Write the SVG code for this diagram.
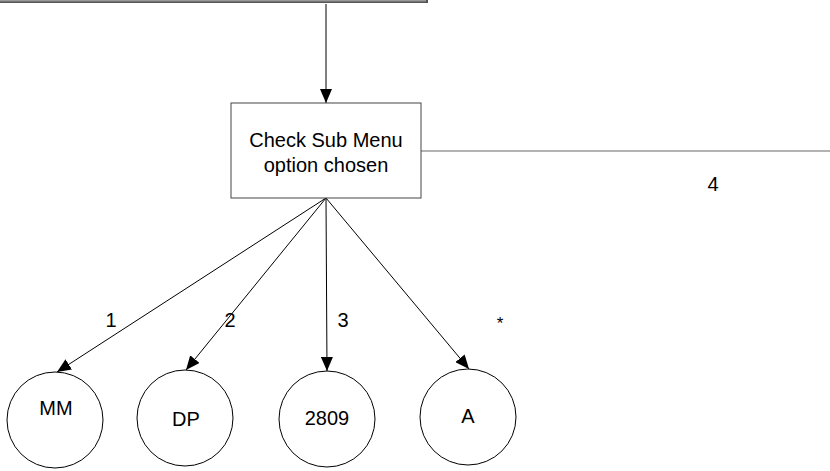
<svg xmlns="http://www.w3.org/2000/svg" width="830" height="471" viewBox="0 0 830 471">
  <style>
    .lbl { font-family: "Liberation Sans", Arial, sans-serif; font-size: 20px; fill: #000; text-anchor: middle; }
    .node { fill: #fff; stroke: #000; stroke-width: 1; }
    .conn { stroke: #000; stroke-width: 1; fill: none; }
  </style>
  <defs>
    <marker id="arrow" markerWidth="14" markerHeight="12" refX="14" refY="6" orient="auto" markerUnits="userSpaceOnUse">
      <path d="M0,0 L14,6 L0,12 Z" fill="#000"/>
    </marker>
  </defs>
  <rect width="830" height="471" fill="#fff"/>

  <!-- upper bar -->
  <g id="top-bar">
    <rect x="0" y="0" width="428" height="3" fill="#555"/>
    <rect x="0" y="0" width="426" height="1.5" fill="#999"/>
  </g>

  <g id="connectors">
    <line class="conn" x1="326" y1="4" x2="326" y2="103" marker-end="url(#arrow)"/>
    <line x1="421" y1="151" x2="830" y2="151" stroke="#666" stroke-width="1"/>
    <line class="conn" x1="326" y1="198" x2="57" y2="372" marker-end="url(#arrow)"/>
    <line class="conn" x1="326" y1="198" x2="186" y2="370" marker-end="url(#arrow)"/>
    <line class="conn" x1="326" y1="198" x2="327" y2="371" marker-end="url(#arrow)"/>
    <line class="conn" x1="326" y1="198" x2="469" y2="369" marker-end="url(#arrow)"/>
    <text class="lbl" x="111" y="327">1</text>
    <text class="lbl" x="230" y="327">2</text>
    <text class="lbl" x="343" y="327">3</text>
    <text class="lbl" x="500" y="329" style="font-size:17px">*</text>
    <text class="lbl" x="713" y="191">4</text>
  </g>

  <g id="check-sub-menu">
    <rect x="231" y="103" width="190" height="95" fill="#fff" stroke="#444" stroke-width="1"/>
    <text class="lbl" x="326" y="147">Check Sub Menu</text>
    <text class="lbl" x="326" y="172">option chosen</text>
  </g>

  <g id="node-mm">
    <ellipse class="node" cx="55" cy="420" rx="48" ry="48"/>
    <text class="lbl" x="56" y="415">MM</text>
  </g>
  <g id="node-dp">
    <ellipse class="node" cx="185" cy="418" rx="48" ry="48"/>
    <text class="lbl" x="186" y="426">DP</text>
  </g>
  <g id="node-2809">
    <ellipse class="node" cx="327" cy="419" rx="48" ry="48"/>
    <text class="lbl" x="327" y="425">2809</text>
  </g>
  <g id="node-a">
    <ellipse class="node" cx="468" cy="417" rx="48" ry="48"/>
    <text class="lbl" x="468" y="423">A</text>
  </g>
</svg>
